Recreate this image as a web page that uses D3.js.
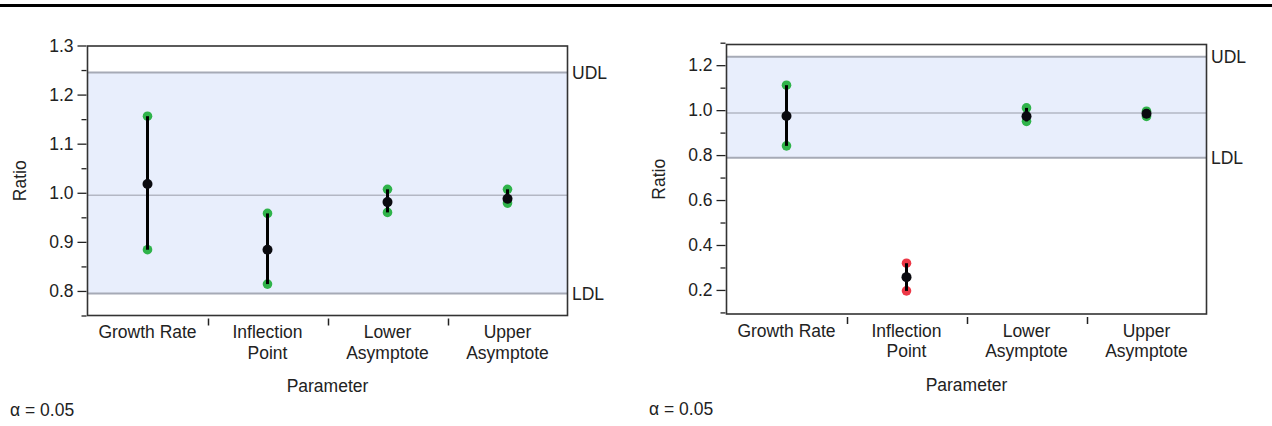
<!DOCTYPE html>
<html>
<head>
<meta charset="utf-8">
<script src="https://cdn.jsdelivr.net/npm/d3@7"></script>
<style>
  html, body { margin: 0; padding: 0; background: #fff; }
  svg { display: block; }
  text { font-family: "Liberation Sans", Arial, sans-serif; fill: #222; }
</style>
</head>
<body>
<svg id="chart" width="1272" height="426"></svg>
<script>
// Parameter categories shared by both panels
const categories = ["Growth Rate", "Inflection Point", "Lower Asymptote", "Upper Asymptote"];
const categoryLines = [["Growth Rate"], ["Inflection", "Point"], ["Lower", "Asymptote"], ["Upper", "Asymptote"]];

// Left panel: ratio estimate with lower / upper confidence limits
const leftRatio = [1.018, 0.884, 0.981, 0.988];
const leftLower = [0.884, 0.814, 0.960, 0.979];
const leftUpper = [1.156, 0.958, 1.007, 1.007];
const leftLimits = [0.795, 1.245];   // LDL, UDL
const leftCenter = 0.995;
const leftTicks = [0.8, 0.9, 1.0, 1.1, 1.2, 1.3];
const leftMinor = [0.75, 0.85, 0.95, 1.05, 1.15, 1.25];

// Right panel
const rightRatio = [0.974, 0.257, 0.973, 0.984];
const rightLower = [0.841, 0.196, 0.950, 0.972];
const rightUpper = [1.111, 0.319, 1.010, 0.995];
const rightLimits = [0.788, 1.237];  // LDL, UDL
const rightCenter = 0.987;
const rightTicks = [0.2, 0.4, 0.6, 0.8, 1.0, 1.2];
const rightMinor = [0.1, 0.3, 0.5, 0.7, 0.9, 1.1, 1.3];

const alphaText = "\u03b1 = 0.05";

const svg = d3.select("#chart");

// heavy rule across the top
svg.append("line")
  .attr("x1", 0).attr("x2", 1272)
  .attr("y1", 5.5).attr("y2", 5.5)
  .attr("stroke", "#000").attr("stroke-width", 3);

function drawPanel(cfg) {
  const g = svg.append("g");
  const { left, right, top, bottom } = cfg.frame;

  const y = d3.scaleLinear().domain(cfg.domain).range([bottom, top + cfg.topOffset]);
  const x = d3.scaleBand().domain(categories).range([left, right]).padding(0);

  // acceptance band between the limits
  g.append("rect")
    .attr("x", left).attr("width", right - left)
    .attr("y", y(cfg.limits[1])).attr("height", y(cfg.limits[0]) - y(cfg.limits[1]))
    .attr("fill", "#e8eefc");

  // centre reference line
  g.append("line")
    .attr("x1", left).attr("x2", right)
    .attr("y1", y(cfg.center)).attr("y2", y(cfg.center))
    .attr("stroke", "#b3b7c4").attr("stroke-width", 1.5);

  // limit lines with labels
  const limitNames = ["LDL", "UDL"];
  cfg.limits.forEach((v, i) => {
    g.append("line")
      .attr("x1", left).attr("x2", right)
      .attr("y1", y(v)).attr("y2", y(v))
      .attr("stroke", "#a6aab6").attr("stroke-width", 2);
    g.append("text")
      .attr("x", right + 4.5).attr("y", y(v) + 6.5)
      .attr("font-size", 17.5)
      .text(limitNames[i]);
  });

  // frame
  g.append("rect")
    .attr("x", left).attr("y", top)
    .attr("width", right - left).attr("height", bottom - top)
    .attr("fill", "none").attr("stroke", "#333").attr("stroke-width", 1.6);

  // y axis: major ticks with labels, minor ticks without
  const yAxis = d3.axisLeft(y).tickValues(cfg.ticks).tickSize(9).tickPadding(4)
    .tickFormat(d3.format(".1f"));
  const ya = g.append("g").attr("transform", `translate(${left - 1},0)`).call(yAxis);
  ya.select(".domain").remove();
  ya.selectAll(".tick line").attr("stroke", "#222").attr("stroke-width", 1.3);
  ya.selectAll(".tick text").attr("font-size", 17.5).attr("font-family", "Liberation Sans, Arial, sans-serif").attr("fill", "#222");

  const yMinor = d3.axisLeft(y).tickValues(cfg.minor).tickSize(5).tickFormat("");
  const ym = g.append("g").attr("transform", `translate(${left - 1},0)`).call(yMinor);
  ym.select(".domain").remove();
  ym.selectAll(".tick line").attr("stroke", "#222").attr("stroke-width", 1.3);

  // category separators below the frame
  categories.slice(1).forEach(c => {
    const bx = Math.round(x(c)) + 0.5;
    g.append("line")
      .attr("x1", bx).attr("x2", bx)
      .attr("y1", bottom + 3).attr("y2", bottom + 10)
      .attr("stroke", "#222").attr("stroke-width", 1.5);
  });

  // category labels
  categories.forEach((c, i) => {
    const t = g.append("text")
      .attr("x", x(c) + x.bandwidth() / 2)
      .attr("y", bottom + 22.5)
      .attr("text-anchor", "middle")
      .attr("font-size", 17.5);
    categoryLines[i].forEach((line, j) => {
      t.append("tspan").attr("x", x(c) + x.bandwidth() / 2).attr("dy", j === 0 ? 0 : 20.5).text(line);
    });
  });

  // axis titles
  g.append("text")
    .attr("x", (left + right) / 2).attr("y", bottom + 76.5)
    .attr("text-anchor", "middle").attr("font-size", 17.5)
    .text("Parameter");
  g.append("text")
    .attr("transform", `translate(${left - 61.5},${(top + bottom) / 2}) rotate(-90)`)
    .attr("text-anchor", "middle").attr("font-size", 17.5)
    .text("Ratio");
  g.append("text")
    .attr("x", cfg.alphaX).attr("y", bottom + 100.5)
    .attr("font-size", 17.5)
    .text(alphaText);

  // confidence intervals
  const rows = categories.map((c, i) => ({
    c, ratio: cfg.ratio[i], lo: cfg.lower[i], hi: cfg.upper[i]
  }));
  const inside = d => d.lo >= cfg.limits[0] && d.hi <= cfg.limits[1];
  const col = d => inside(d) ? "#2fb34a" : "#ec3846";
  const cx = d => x(d.c) + x.bandwidth() / 2;

  rows.forEach(d => {
    [d.lo, d.hi].forEach(v => {
      g.append("circle").attr("cx", cx(d)).attr("cy", y(v)).attr("r", 4.8).attr("fill", col(d));
    });
  });
  g.selectAll(".ci").data(rows).enter().append("line")
    .attr("x1", cx).attr("x2", cx)
    .attr("y1", d => y(d.lo)).attr("y2", d => y(d.hi))
    .attr("stroke", "#000").attr("stroke-width", 3);
  g.selectAll(".est").data(rows).enter().append("circle")
    .attr("cx", cx).attr("cy", d => y(d.ratio)).attr("r", 5)
    .attr("fill", "#0a0a0f");
}

drawPanel({
  frame: { left: 87.5, right: 567.5, top: 46, bottom: 315.5 },
  domain: [0.75, 1.3], topOffset: -0.5,
  ticks: leftTicks, minor: leftMinor,
  limits: leftLimits, center: leftCenter,
  ratio: leftRatio, lower: leftLower, upper: leftUpper,
  alphaX: 10
});

drawPanel({
  frame: { left: 726.5, right: 1206.5, top: 44.5, bottom: 314 },
  domain: [0.093, 1.292], topOffset: 0,
  ticks: rightTicks, minor: rightMinor,
  limits: rightLimits, center: rightCenter,
  ratio: rightRatio, lower: rightLower, upper: rightUpper,
  alphaX: 649
});
</script>
</body>
</html>
